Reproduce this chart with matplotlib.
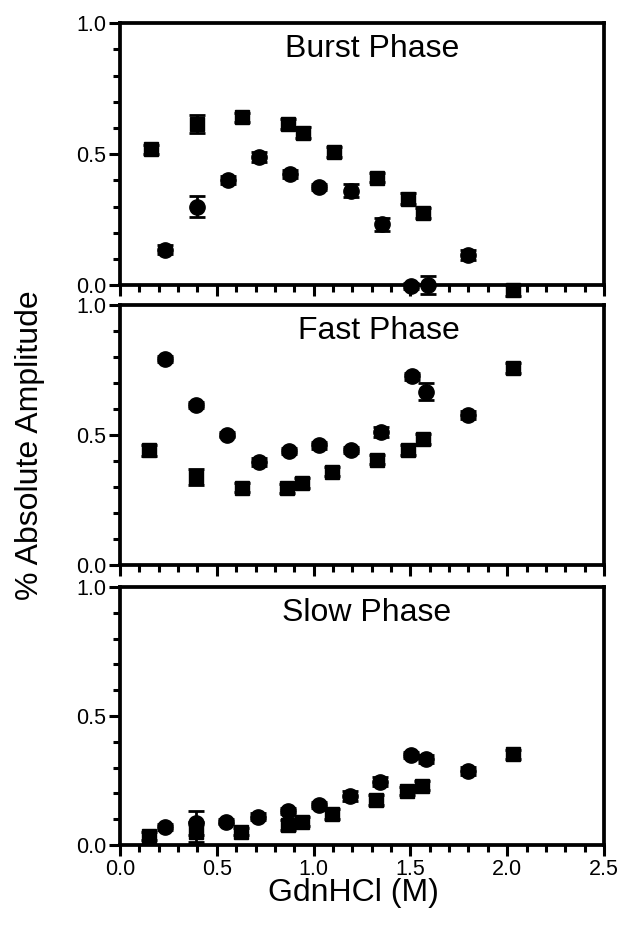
import matplotlib
matplotlib.use("Agg")
import matplotlib.pyplot as plt
from matplotlib.ticker import MultipleLocator

plt.rcParams['font.family'] = ['Liberation Sans', 'DejaVu Sans']

# Burst phase
burst_sq_x = [0.16, 0.40, 0.63, 0.87, 0.945, 1.105, 1.33, 1.49, 1.565, 2.03]
burst_sq_y = [0.518, 0.615, 0.64, 0.615, 0.582, 0.508, 0.41, 0.33, 0.276, -0.02]
burst_sq_e = [0.018, 0.035, 0.018, 0.018, 0.02, 0.018, 0.018, 0.02, 0.018, 0.02]
burst_ci_x = [0.234, 0.40, 0.557, 0.72, 0.876, 1.03, 1.195, 1.353, 1.505, 1.59, 1.80]
burst_ci_y = [0.136, 0.30, 0.40, 0.49, 0.424, 0.376, 0.36, 0.233, -0.004, 0.0, 0.115]
burst_ci_e = [0.018, 0.04, 0.015, 0.02, 0.015, 0.012, 0.025, 0.025, 0.012, 0.035, 0.018]

# Fast phase
fast_sq_x = [0.152, 0.393, 0.63, 0.864, 0.94, 1.097, 1.328, 1.49, 1.566, 2.03]
fast_sq_y = [0.44, 0.337, 0.297, 0.294, 0.315, 0.358, 0.404, 0.442, 0.483, 0.756]
fast_sq_e = [0.02, 0.032, 0.018, 0.018, 0.018, 0.018, 0.018, 0.018, 0.02, 0.018]
fast_ci_x = [0.234, 0.393, 0.553, 0.717, 0.872, 1.03, 1.195, 1.35, 1.509, 1.583, 1.80]
fast_ci_y = [0.79, 0.615, 0.50, 0.396, 0.438, 0.459, 0.441, 0.51, 0.724, 0.665, 0.577]
fast_ci_e = [0.012, 0.012, 0.01, 0.015, 0.012, 0.012, 0.012, 0.018, 0.012, 0.032, 0.015]

# Slow phase
slow_sq_x = [0.148, 0.393, 0.626, 0.867, 0.94, 1.095, 1.324, 1.484, 1.56, 2.03]
slow_sq_y = [0.036, 0.05, 0.052, 0.077, 0.09, 0.12, 0.174, 0.21, 0.23, 0.352]
slow_sq_e = [0.015, 0.04, 0.015, 0.018, 0.018, 0.018, 0.018, 0.015, 0.018, 0.018]
slow_ci_x = [0.23, 0.393, 0.545, 0.712, 0.867, 1.03, 1.19, 1.345, 1.505, 1.579, 1.80]
slow_ci_y = [0.071, 0.085, 0.09, 0.11, 0.133, 0.155, 0.19, 0.245, 0.348, 0.333, 0.286]
slow_ci_e = [0.012, 0.045, 0.01, 0.015, 0.012, 0.01, 0.02, 0.018, 0.012, 0.015, 0.015]

titles = ["Burst Phase", "Fast Phase", "Slow Phase"]
panels = [
    (burst_sq_x, burst_sq_y, burst_sq_e, burst_ci_x, burst_ci_y, burst_ci_e),
    (fast_sq_x, fast_sq_y, fast_sq_e, fast_ci_x, fast_ci_y, fast_ci_e),
    (slow_sq_x, slow_sq_y, slow_sq_e, slow_ci_x, slow_ci_y, slow_ci_e),
]
y_ticks = [0.0, 0.5, 1.0]
x_ticks = [0.0, 0.5, 1.0, 1.5, 2.0, 2.5]

fig = plt.figure(figsize=(6.22, 9.26), dpi=100)
boxes = [(0.692, 0.975), (0.390, 0.671), (0.0875, 0.366)]
title_x = [0.52, 0.535, 0.51]
left, right = 0.193, 0.971
for i, ((b, t), title, data) in enumerate(zip(boxes, titles, panels)):
    ax = fig.add_axes([left, b, right - left, t - b])
    sx, sy, se, cx, cy, ce = data
    ax.errorbar(sx, sy, yerr=se, fmt='s', color='black', ms=10, capsize=6,
                capthick=2, elinewidth=2, clip_on=False, zorder=3)
    ax.errorbar(cx, cy, yerr=ce, fmt='o', color='black', ms=11, capsize=6,
                capthick=2, elinewidth=2, clip_on=False, zorder=3)
    ax.set_xlim(0, 2.5)
    ax.set_ylim(0, 1.0)
    ax.set_yticks(y_ticks)
    ax.set_yticklabels([f"{v:.1f}" for v in y_ticks])
    ax.yaxis.set_minor_locator(MultipleLocator(0.1))
    ax.set_xticks(x_ticks)
    ax.xaxis.set_minor_locator(MultipleLocator(0.1))
    if i == 2:
        ax.set_xticklabels([f"{v:.1f}" for v in x_ticks])
        ax.set_xlabel("GdnHCl (M)", fontsize=23, labelpad=0)
        ax.xaxis.set_label_coords(0.482, -0.128, transform=ax.transAxes)
        ax.xaxis.label.set_va('top')
    else:
        ax.set_xticklabels([])
    ax.tick_params(axis='both', which='major', direction='out', length=8,
                   width=2.2, labelsize=15.5, pad=2)
    ax.tick_params(axis='both', which='minor', direction='out', length=5,
                   width=2.2)
    for sp in ax.spines.values():
        sp.set_linewidth(2.7)
    ax.text(title_x[i], 0.90, title, transform=ax.transAxes, ha='center',
            va='center', fontsize=23)

fig.text(0.048, 0.519, "% Absolute Amplitude", rotation=90, ha='center',
         va='center', fontsize=23)

fig.savefig("out.png", dpi=100)
